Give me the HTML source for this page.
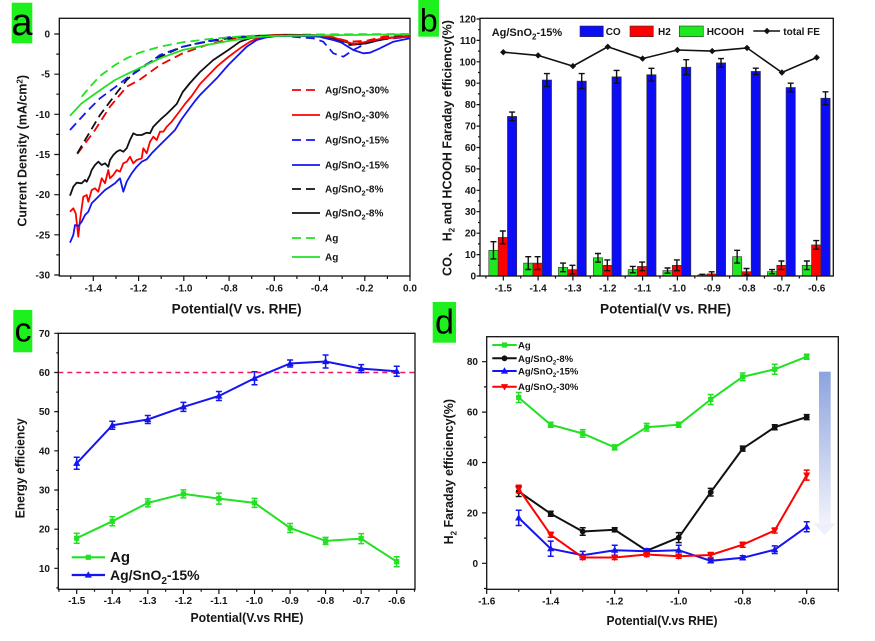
<!DOCTYPE html>
<html><head><meta charset="utf-8"><style>
html,body{margin:0;padding:0;background:#fff;}
svg{display:block;}
text{font-family:"Liberation Sans","Noto Sans CJK SC",Arial,sans-serif;font-weight:bold;fill:#161616;}
</style></head><body>
<svg width="875" height="641" viewBox="0 0 875 641" xmlns="http://www.w3.org/2000/svg">
<defs>
<rect id="sq" x="-2.6" y="-2.6" width="5.2" height="5.2"/>
<circle id="ci" r="2.9"/>
<polygon id="tu" points="0,-3.8 -3.6,2.6 3.6,2.6"/>
<polygon id="td" points="0,3.8 -3.6,-2.6 3.6,-2.6"/>
<polygon id="dm" points="0,-3.2 3.2,0 0,3.2 -3.2,0"/>
<linearGradient id="ag" x1="0" y1="0" x2="0" y2="1">
<stop offset="0" stop-color="#8ca3de"/><stop offset="1" stop-color="#f1f3fb"/>
</linearGradient>
</defs>
<rect width="875" height="641" fill="#fff"/>

<!-- ================= PANEL A ================= -->
<rect x="11.7" y="2.7" width="20.6" height="40.6" fill="#1ef01e"/>
<text x="22" y="35" font-size="38" font-weight="normal" text-anchor="middle" style="font-weight:normal;fill:#000">a</text>
<rect x="59.3" y="18.3" width="350.7" height="257.7" fill="none" stroke="#111" stroke-width="1.3"/>
<path d="M54.3 34H59.3M54.3 74.2H59.3M54.3 114.3H59.3M54.3 154.5H59.3M54.3 194.7H59.3M54.3 234.8H59.3M54.3 275H59.3M56.3 54.1H59.3M56.3 94.2H59.3M56.3 134.4H59.3M56.3 174.6H59.3M56.3 214.7H59.3M56.3 254.9H59.3M93.3 276V281M138.6 276V281M183.8 276V281M229.1 276V281M274.3 276V281M319.5 276V281M364.8 276V281M410 276V281M70.7 276V279M116 276V279M161.2 276V279M206.5 276V279M251.7 276V279M296.9 276V279M342.2 276V279M387.4 276V279" stroke="#111" stroke-width="1.2" fill="none"/>
<g font-size="10" text-anchor="end">
<text x="50" y="37.5">0</text><text x="50" y="77.7">-5</text><text x="50" y="117.8">-10</text><text x="50" y="158">-15</text><text x="50" y="198.2">-20</text><text x="50" y="238.3">-25</text><text x="50" y="278.5">-30</text>
</g>
<g font-size="10" text-anchor="middle">
<text x="93.3" y="291.5">-1.4</text><text x="138.6" y="291.5">-1.2</text><text x="183.8" y="291.5">-1.0</text><text x="229.1" y="291.5">-0.8</text><text x="274.3" y="291.5">-0.6</text><text x="319.5" y="291.5">-0.4</text><text x="364.8" y="291.5">-0.2</text><text x="410" y="291.5">0.0</text>
</g>
<text x="236.7" y="313.5" font-size="13.5" text-anchor="middle" textLength="130" lengthAdjust="spacingAndGlyphs">Potential(V vs. RHE)</text>
<text transform="translate(26.5,150.8) rotate(-90)" font-size="12.5" text-anchor="middle">Current Density (mA/cm<tspan dy="-4" font-size="8">2</tspan><tspan dy="4">)</tspan></text>

<g fill="none" stroke-width="1.8" stroke-linejoin="round" stroke-linecap="butt">
<polyline stroke="#e00" stroke-dasharray="9 5" points="77.3,154 95,130 110,106.7 126.7,86.7 139.3,80 160,65 182.7,53.3 206.7,45 228.3,39.3 253.3,36 283.3,34.7 316.7,35.3 333.3,37.3 350,41.7 366.7,40.7 383.3,36.7 410,35.3"/>
<polyline stroke="#111" stroke-dasharray="9 5" points="77.3,153.3 90,131.7 100,115 115,95 126.7,80 139.3,68.3 160,56.7 182.7,46.7 206.7,41.7 228.3,38.3 253.3,36 283.3,35 316.7,36 333.3,40 350,45 366.7,43.3 383.3,38.3 410,36"/>
<polyline stroke="#1515f0" stroke-dasharray="9 5" points="70,130 86.7,111.7 100,98.3 115,87.3 126.7,78.3 139.3,70 160,55 182.7,46.7 200,42.7 228.3,37.3 253.3,36 283.3,36 300,37.3 313.3,38.3 323.3,41.7 333.3,53.3 343.3,56.7 353.3,50 366.7,43.3 383.3,39.3 410,36.7"/>
<polyline stroke="#22e022" stroke-dasharray="9 5" points="81.7,96.7 90,86.7 100,76 115,65 126.7,58.3 139.3,52.7 160,46.7 182.7,42.3 206.7,39.3 228.3,37.3 253.3,35.7 283.3,34.7 333.3,34.3 410,34"/>
<polyline stroke="#111" points="70,195.7 73.3,186.7 76.7,182.7 81.7,183.3 85,180 86.7,181.7 90,175 91.7,170 95,165 98.3,161.7 101.7,165 105,163.3 108.3,166.7 110,160 113.3,155 116.7,151.7 120,150 123.3,151.7 126.7,148.3 130,140 133.3,133.3 136.7,135 141.7,135 146.7,132.7 150,133.3 153.3,126.7 156.7,123.3 161.7,118.3 166.7,114 171.7,109 176.7,104 182.7,92 190,83 200,72 213.3,60 228.3,50 240,41.7 250,38.3 263.3,36 276.7,35 316.7,35.3 333.3,38.3 350,43.3 360,44.3 376.7,40.7 393.3,37.3 410,36.7"/>
<polyline stroke="#f00" points="70,211.7 73.3,208.3 75.7,213.3 78.3,236.7 80,220 83.3,196.7 86.7,195 88.3,201.7 91.7,190 95,188.3 98.3,191.7 101.7,178.3 105,183.3 108.3,170 110,178.3 113.3,175 116.7,170 120,171.7 123.3,163.3 126.7,161.7 130,156.7 133.3,163.3 136.7,160 141.7,158.3 143.3,148.3 146.7,153.3 150,141.7 153.3,136.7 156.7,140 160,131.7 163.3,131.7 166.7,126.7 171.7,121.7 178.3,113 185,104 191.7,96 200,84 216.7,66.7 228.3,57 240,48.3 250,41.7 260,37.3 273.3,35.3 320,36 333.3,37.3 346.7,41.7 353.3,44 366.7,41.7 383.3,38.3 410,36.7"/>
<polyline stroke="#1515f0" points="70,242.7 73.3,235 75,225 78.3,226 81.7,221.7 85,215 88.3,211.7 91.7,203.3 95,200 100,195 105,190 110,186.7 115,183.3 120,178.3 123.3,191.7 126.7,181.7 131.7,173.3 136.7,166.7 141.7,161.7 146.7,159.3 151.7,153.3 156.7,148.3 161.7,143.3 168.3,136.7 175,130 181.7,119 188.3,110 195,101 200,95 216.7,78.3 228.3,65 233.3,60 246.7,46.7 256.7,40 266.7,37.3 276.7,36 300,36 320,36.7 340,41.7 353.3,50 363.3,53.3 370,52.7 380,48.3 393.3,41.7 410,38.3"/>
<polyline stroke="#22e022" points="70,115.7 81.7,103.3 93.3,95 104,87.5 115,80 127,74 139.3,68.3 160,58.3 182.7,50 206.7,45 228.3,41 253.3,37.3 274.3,36 300,35.7 350,35 410,34.3"/>
</g>
<!-- legend a -->
<g stroke-width="1.8" fill="none">
<path d="M292 90H320" stroke="#e00" stroke-dasharray="9 5"/>
<path d="M292 115H320" stroke="#f00"/>
<path d="M292 140H320" stroke="#1515f0" stroke-dasharray="9 5"/>
<path d="M292 165H320" stroke="#1515f0"/>
<path d="M292 189H320" stroke="#111" stroke-dasharray="9 5"/>
<path d="M292 213H320" stroke="#111"/>
<path d="M292 238H320" stroke="#22e022" stroke-dasharray="9 5"/>
<path d="M292 257H320" stroke="#22e022"/>
</g>
<g font-size="10">
<text x="325" y="93.5">Ag/SnO<tspan dy="3" font-size="7">2</tspan><tspan dy="-3">-30%</tspan></text>
<text x="325" y="118.5">Ag/SnO<tspan dy="3" font-size="7">2</tspan><tspan dy="-3">-30%</tspan></text>
<text x="325" y="143.5">Ag/SnO<tspan dy="3" font-size="7">2</tspan><tspan dy="-3">-15%</tspan></text>
<text x="325" y="168.5">Ag/SnO<tspan dy="3" font-size="7">2</tspan><tspan dy="-3">-15%</tspan></text>
<text x="325" y="192.5">Ag/SnO<tspan dy="3" font-size="7">2</tspan><tspan dy="-3">-8%</tspan></text>
<text x="325" y="216.5">Ag/SnO<tspan dy="3" font-size="7">2</tspan><tspan dy="-3">-8%</tspan></text>
<text x="325" y="241.5">Ag</text>
<text x="325" y="260.5">Ag</text>
</g>

<!-- ================= PANEL B ================= -->
<rect x="418.3" y="0" width="20.7" height="36.7" fill="#1ef01e"/>
<text x="428.8" y="31.7" font-size="32" text-anchor="middle" style="font-weight:normal;fill:#000">b</text>
<text transform="translate(451.5,148) rotate(-90)" font-size="12.5" text-anchor="middle">CO、 H<tspan dy="3" font-size="8">2</tspan><tspan dy="-3"> and HCOOH Faraday efficiency(%)</tspan></text>
<g stroke="#333" stroke-width="0.6">
<g fill="#0c0cf5">
<rect x="507.45" y="116.4" width="9.3" height="159.6"/><rect x="542.25" y="80" width="9.3" height="196"/><rect x="577.05" y="81.1" width="9.3" height="194.9"/><rect x="611.95" y="76.8" width="9.3" height="199.2"/><rect x="646.75" y="74.7" width="9.3" height="201.3"/><rect x="681.55" y="67.2" width="9.3" height="208.8"/><rect x="716.35" y="62.9" width="9.3" height="213.1"/><rect x="751.15" y="71.4" width="9.3" height="204.6"/><rect x="786.05" y="87.5" width="9.3" height="188.5"/><rect x="820.85" y="98.2" width="9.3" height="177.8"/>
</g>
<g fill="#f00">
<rect x="498.15" y="237.4" width="9.3" height="38.6"/><rect x="532.95" y="263.1" width="9.3" height="12.9"/><rect x="567.75" y="269.6" width="9.3" height="6.4"/><rect x="602.65" y="265.3" width="9.3" height="10.7"/><rect x="637.45" y="266.4" width="9.3" height="9.6"/><rect x="672.25" y="265.3" width="9.3" height="10.7"/><rect x="707.05" y="273.9" width="9.3" height="2.1"/><rect x="741.85" y="271.7" width="9.3" height="4.3"/><rect x="776.75" y="265.3" width="9.3" height="10.7"/><rect x="811.55" y="244.9" width="9.3" height="31.1"/>
</g>
<g fill="#1ee81e">
<rect x="488.8" y="250.3" width="9.3" height="25.7"/><rect x="523.6" y="263.1" width="9.3" height="12.9"/><rect x="558.4" y="267.4" width="9.3" height="8.6"/><rect x="593.3" y="257.8" width="9.3" height="18.2"/><rect x="628.1" y="269.6" width="9.3" height="6.4"/><rect x="662.9" y="270.6" width="9.3" height="5.4"/><rect x="697.7" y="274.9" width="9.3" height="1.1"/><rect x="732.5" y="256.7" width="9.3" height="19.3"/><rect x="767.4" y="271.7" width="9.3" height="4.3"/><rect x="802.2" y="265.3" width="9.3" height="10.7"/>
</g>
</g>
<path fill="none" stroke="#111" stroke-width="1.4" d="M493.45 241.7V258.9M490.45 241.7h6M490.45 258.9h6M528.25 256.7V269.5M525.25 256.7h6M525.25 269.5h6M563.05 263.1V271.7M560.05 263.1h6M560.05 271.7h6M597.95 253.5V262.1M594.95 253.5h6M594.95 262.1h6M632.75 266.4V272.8M629.75 266.4h6M629.75 272.8h6M667.55 268V273.2M664.55 268h6M664.55 273.2h6M702.35 274.3V275.5M699.35 274.3h6M737.15 250.3V263.1M734.15 250.3h6M734.15 263.1h6M772.05 269.6V273.8M769.05 269.6h6M769.05 273.8h6M806.85 261V269.6M803.85 261h6M803.85 269.6h6
M502.8 231V243.8M499.8 231h6M499.8 243.8h6M537.6 256.7V269.5M534.6 256.7h6M534.6 269.5h6M572.4 265.3V273.9M569.4 265.3h6M569.4 273.9h6M607.3 259.9V270.7M604.3 259.9h6M604.3 270.7h6M642.1 262.1V270.7M639.1 262.1h6M639.1 270.7h6M676.9 259.9V270.7M673.9 259.9h6M673.9 270.7h6M711.7 271.8V276M708.7 271.8h6M746.5 268.5V274.9M743.5 268.5h6M743.5 274.9h6M781.4 261V269.6M778.4 261h6M778.4 269.6h6M816.2 240.6V249.2M813.2 240.6h6M813.2 249.2h6
M512.1 112.1V120.7M509.1 112.1h6M509.1 120.7h6M546.9 73.6V86.4M543.9 73.6h6M543.9 86.4h6M581.7 73.6V88.6M578.7 73.6h6M578.7 88.6h6M616.6 70.4V83.2M613.6 70.4h6M613.6 83.2h6M651.4 68.3V81.1M648.4 68.3h6M648.4 81.1h6M686.2 59.7V74.7M683.2 59.7h6M683.2 74.7h6M721 58.6V67.2M718 58.6h6M718 67.2h6M755.8 68.2V74.6M752.8 68.2h6M752.8 74.6h6M790.7 83.2V91.8M787.7 83.2h6M787.7 91.8h6M825.5 91.8V104.6M822.5 91.8h6M822.5 104.6h6"/>
<polyline fill="none" stroke="#111" stroke-width="1.6" points="503.3,52.2 538.1,55.4 572.9,66.1 607.8,46.8 642.6,58.6 677.4,50 712.2,51.1 747,47.9 781.9,72.5 816.7,57.5"/>
<g fill="#111">
<use href="#dm" x="503.3" y="52.2"/><use href="#dm" x="538.1" y="55.4"/><use href="#dm" x="572.9" y="66.1"/><use href="#dm" x="607.8" y="46.8"/><use href="#dm" x="642.6" y="58.6"/><use href="#dm" x="677.4" y="50"/><use href="#dm" x="712.2" y="51.1"/><use href="#dm" x="747" y="47.9"/><use href="#dm" x="781.9" y="72.5"/><use href="#dm" x="816.7" y="57.5"/>
</g>
<rect x="480" y="18.3" width="353.3" height="257.7" fill="none" stroke="#111" stroke-width="1.3"/>
<path fill="none" stroke="#111" stroke-width="1.2" d="M476.5 276H480M476.5 254.6H480M476.5 233.2H480M476.5 211.7H480M476.5 190.3H480M476.5 168.9H480M476.5 147.5H480M476.5 126.1H480M476.5 104.6H480M476.5 83.2H480M476.5 61.8H480M476.5 40.4H480M476.5 19H480M478 265.3H480M478 243.9H480M478 222.5H480M478 201H480M478 179.6H480M478 158.2H480M478 136.8H480M478 115.4H480M478 93.9H480M478 72.5H480M478 51.1H480M478 29.7H480
M503.3 276V280.5M538.1 276V280.5M572.9 276V280.5M607.8 276V280.5M642.6 276V280.5M677.4 276V280.5M712.2 276V280.5M747 276V280.5M781.9 276V280.5M816.7 276V280.5M485.9 276V278.5M520.7 276V278.5M555.5 276V278.5M590.35 276V278.5M625.2 276V278.5M660 276V278.5M694.8 276V278.5M729.6 276V278.5M764.45 276V278.5M799.3 276V278.5"/>
<g font-size="10" text-anchor="end">
<text x="476" y="279.5">0</text><text x="476" y="258.1">10</text><text x="476" y="236.7">20</text><text x="476" y="215.2">30</text><text x="476" y="193.8">40</text><text x="476" y="172.4">50</text><text x="476" y="151">60</text><text x="476" y="129.6">70</text><text x="476" y="108.1">80</text><text x="476" y="86.7">90</text><text x="476" y="65.3">100</text><text x="476" y="43.9">110</text><text x="476" y="22.5">120</text>
</g>
<g font-size="10" text-anchor="middle">
<text x="503.3" y="291.5">-1.5</text><text x="538.1" y="291.5">-1.4</text><text x="572.9" y="291.5">-1.3</text><text x="607.8" y="291.5">-1.2</text><text x="642.6" y="291.5">-1.1</text><text x="677.4" y="291.5">-1.0</text><text x="712.2" y="291.5">-0.9</text><text x="747" y="291.5">-0.8</text><text x="781.9" y="291.5">-0.7</text><text x="816.7" y="291.5">-0.6</text>
</g>
<text x="665.5" y="313.5" font-size="13.5" text-anchor="middle" textLength="131" lengthAdjust="spacingAndGlyphs">Potential(V vs. RHE)</text>
<!-- legend b -->
<text x="491.7" y="36" font-size="11">Ag/SnO<tspan dy="3.5" font-size="8">2</tspan><tspan dy="-3.5">-15%</tspan></text>
<rect x="580" y="26" width="23.3" height="10.7" fill="#0c0cf5" stroke="#333" stroke-width="0.6"/>
<text x="605.7" y="35" font-size="10">CO</text>
<rect x="630" y="26" width="23.3" height="10.7" fill="#f00" stroke="#333" stroke-width="0.6"/>
<text x="658" y="35" font-size="10">H2</text>
<rect x="679.3" y="26" width="24" height="10.7" fill="#1ee81e" stroke="#333" stroke-width="0.6"/>
<text x="706.7" y="35" font-size="10">HCOOH</text>
<path d="M753.3 31H780" stroke="#111" stroke-width="1.6"/>
<use href="#dm" x="767" y="31" fill="#111"/>
<text x="783.3" y="35" font-size="10">total FE</text>

<!-- ================= PANEL C ================= -->
<rect x="13.3" y="310" width="19" height="42.3" fill="#1ef01e"/>
<text x="23" y="341.7" font-size="34" text-anchor="middle" style="font-weight:normal;fill:#000">c</text>
<path d="M58.3 372.5H415" stroke="#f0186a" stroke-width="1.5" stroke-dasharray="5 4"/>
<rect x="58.3" y="333.3" width="356.7" height="256" fill="none" stroke="#111" stroke-width="1.3"/>
<path fill="none" stroke="#111" stroke-width="1.2" d="M54.3 333.3H58.3M54.3 372.5H58.3M54.3 411.6H58.3M54.3 450.8H58.3M54.3 490H58.3M54.3 529.2H58.3M54.3 568.3H58.3M56.3 352.9H58.3M56.3 392.1H58.3M56.3 431.2H58.3M56.3 470.4H58.3M56.3 509.6H58.3M56.3 548.8H58.3M56.3 587.9H58.3
M76.7 589.3V594M112.3 589.3V594M147.8 589.3V594M183.4 589.3V594M218.9 589.3V594M254.5 589.3V594M290.1 589.3V594M325.6 589.3V594M361.2 589.3V594M396.7 589.3V594M94.5 589.3V591.8M130.1 589.3V591.8M165.6 589.3V591.8M201.2 589.3V591.8M236.7 589.3V591.8M272.3 589.3V591.8M307.9 589.3V591.8M343.4 589.3V591.8M379 589.3V591.8M414.5 589.3V591.8M58.9 589.3V591.8"/>
<g font-size="10" text-anchor="end">
<text x="50" y="336.8">70</text><text x="50" y="376">60</text><text x="50" y="415.1">50</text><text x="50" y="454.3">40</text><text x="50" y="493.5">30</text><text x="50" y="532.7">20</text><text x="50" y="571.8">10</text>
</g>
<g font-size="10" text-anchor="middle">
<text x="76.7" y="604">-1.5</text><text x="112.3" y="604">-1.4</text><text x="147.8" y="604">-1.3</text><text x="183.4" y="604">-1.2</text><text x="218.9" y="604">-1.1</text><text x="254.5" y="604">-1.0</text><text x="290.1" y="604">-0.9</text><text x="325.6" y="604">-0.8</text><text x="361.2" y="604">-0.7</text><text x="396.7" y="604">-0.6</text>
</g>
<text x="247" y="622" font-size="13" text-anchor="middle" textLength="113" lengthAdjust="spacingAndGlyphs">Potential(V.vs RHE)</text>
<text transform="translate(24.5,468.3) rotate(-90)" font-size="12.5" text-anchor="middle" textLength="100" lengthAdjust="spacingAndGlyphs">Energy efficiency</text>
<polyline fill="none" stroke="#22e022" stroke-width="2" points="76.7,538.2 112.3,521.3 147.8,502.9 183.4,493.9 218.9,498.6 254.5,502.9 290.1,528 325.6,540.9 361.2,538.6 396.7,561.7"/>
<path fill="none" stroke="#22e022" stroke-width="1.5" d="M76.7 533.2V543.2M73.7 533.2h6M73.7 543.2h6M112.3 516.8V525.8M109.3 516.8h6M109.3 525.8h6M147.8 498.9V506.9M144.8 498.9h6M144.8 506.9h6M183.4 489.9V497.9M180.4 489.9h6M180.4 497.9h6M218.9 493.1V504.1M215.9 493.1h6M215.9 504.1h6M254.5 498.4V507.4M251.5 498.4h6M251.5 507.4h6M290.1 523.5V532.5M287.1 523.5h6M287.1 532.5h6M325.6 537.4V544.4M322.6 537.4h6M322.6 544.4h6M361.2 533.6V543.6M358.2 533.6h6M358.2 543.6h6M396.7 556.7V566.7M393.7 556.7h6M393.7 566.7h6"/>
<g fill="#22e022">
<use href="#sq" x="76.7" y="538.2"/><use href="#sq" x="112.3" y="521.3"/><use href="#sq" x="147.8" y="502.9"/><use href="#sq" x="183.4" y="493.9"/><use href="#sq" x="218.9" y="498.6"/><use href="#sq" x="254.5" y="502.9"/><use href="#sq" x="290.1" y="528"/><use href="#sq" x="325.6" y="540.9"/><use href="#sq" x="361.2" y="538.6"/><use href="#sq" x="396.7" y="561.7"/>
</g>
<polyline fill="none" stroke="#1515f0" stroke-width="2" points="76.7,463.3 112.3,425.3 147.8,419.5 183.4,406.9 218.9,396 254.5,378.3 290.1,363.5 325.6,361.5 361.2,368.6 396.7,371.3"/>
<path fill="none" stroke="#1515f0" stroke-width="1.5" d="M76.7 457.3V469.3M73.7 457.3h6M73.7 469.3h6M112.3 421.3V429.3M109.3 421.3h6M109.3 429.3h6M147.8 415.5V423.5M144.8 415.5h6M144.8 423.5h6M183.4 402.4V411.4M180.4 402.4h6M180.4 411.4h6M218.9 391.5V400.5M215.9 391.5h6M215.9 400.5h6M254.5 371.8V384.8M251.5 371.8h6M251.5 384.8h6M290.1 360V367M287.1 360h6M287.1 367h6M325.6 355V368M322.6 355h6M322.6 368h6M361.2 364.6V372.6M358.2 364.6h6M358.2 372.6h6M396.7 366.3V376.3M393.7 366.3h6M393.7 376.3h6"/>
<g fill="#1515f0">
<use href="#tu" x="76.7" y="463.3"/><use href="#tu" x="112.3" y="425.3"/><use href="#tu" x="147.8" y="419.5"/><use href="#tu" x="183.4" y="406.9"/><use href="#tu" x="218.9" y="396"/><use href="#tu" x="254.5" y="378.3"/><use href="#tu" x="290.1" y="363.5"/><use href="#tu" x="325.6" y="361.5"/><use href="#tu" x="361.2" y="368.6"/><use href="#tu" x="396.7" y="371.3"/>
</g>
<!-- legend c -->
<path d="M71.7 557.3H105" stroke="#22e022" stroke-width="2.2"/>
<use href="#sq" x="88.3" y="557.3" fill="#22e022"/>
<text x="110" y="562" font-size="15">Ag</text>
<path d="M71.7 575H105" stroke="#1515f0" stroke-width="2.2"/>
<use href="#tu" x="88.3" y="575" fill="#1515f0"/>
<text x="110" y="580" font-size="14">Ag/SnO<tspan dy="4" font-size="10">2</tspan><tspan dy="-4">-15%</tspan></text>

<!-- ================= PANEL D ================= -->
<rect x="432.7" y="302" width="23.3" height="40.7" fill="#1ef01e"/>
<text x="444.5" y="333.3" font-size="34" text-anchor="middle" style="font-weight:normal;fill:#000">d</text>
<rect x="819" y="371.7" width="11.7" height="152" fill="url(#ag)"/>
<polygon points="813.3,523.3 835.7,523.3 824.5,535" fill="#eef1fb"/>
<rect x="486.7" y="336.7" width="351.6" height="252.6" fill="none" stroke="#111" stroke-width="1.3"/>
<path fill="none" stroke="#111" stroke-width="1.2" d="M482 563.3H486.7M482 512.9H486.7M482 462.5H486.7M482 412.1H486.7M482 361.7H486.7M484 588.5H486.7M484 538.1H486.7M484 487.7H486.7M484 437.3H486.7M484 386.9H486.7
M486.7 589.3V594M550.7 589.3V594M614.7 589.3V594M678.7 589.3V594M742.7 589.3V594M806.7 589.3V594M518.7 589.3V591.8M582.7 589.3V591.8M646.7 589.3V591.8M710.7 589.3V591.8M774.7 589.3V591.8M838.3 589.3V591.8"/>
<g font-size="10" text-anchor="end">
<text x="478" y="566.8">0</text><text x="478" y="516.4">20</text><text x="478" y="466">40</text><text x="478" y="415.6">60</text><text x="478" y="365.2">80</text>
</g>
<g font-size="10" text-anchor="middle">
<text x="486.7" y="604.5">-1.6</text><text x="550.7" y="604.5">-1.4</text><text x="614.7" y="604.5">-1.2</text><text x="678.7" y="604.5">-1.0</text><text x="742.7" y="604.5">-0.8</text><text x="806.7" y="604.5">-0.6</text>
</g>
<text x="662" y="625" font-size="13" text-anchor="middle" textLength="111" lengthAdjust="spacingAndGlyphs">Potential(V.vs RHE)</text>
<text transform="translate(453,471.7) rotate(-90)" font-size="12.5" text-anchor="middle">H<tspan dy="3.5" font-size="8">2</tspan><tspan dy="-3.5"> Faraday efficiency(%)</tspan></text>

<!-- Ag -->
<polyline fill="none" stroke="#22e022" stroke-width="2" points="518.7,397.5 550.7,424.7 582.7,433.5 614.7,447.4 646.7,427.2 678.7,424.7 710.7,399.5 742.7,376.8 774.7,369.3 806.7,356.7"/>
<path fill="none" stroke="#22e022" stroke-width="1.5" d="M518.7 392.5V402.5M515.7 392.5h6M515.7 402.5h6M550.7 422.2V427.2M547.7 422.2h6M547.7 427.2h6M582.7 429.7V437.3M579.7 429.7h6M579.7 437.3h6M614.7 444.9V449.9M611.7 444.9h6M611.7 449.9h6M646.7 423.4V431M643.7 423.4h6M643.7 431h6M678.7 422.2V427.2M675.7 422.2h6M675.7 427.2h6M710.7 394.5V404.5M707.7 394.5h6M707.7 404.5h6M742.7 373V380.6M739.7 373h6M739.7 380.6h6M774.7 364.3V374.3M771.7 364.3h6M771.7 374.3h6M806.7 354.2V359.2M803.7 354.2h6M803.7 359.2h6"/>
<g fill="#22e022">
<use href="#sq" x="518.7" y="397.5"/><use href="#sq" x="550.7" y="424.7"/><use href="#sq" x="582.7" y="433.5"/><use href="#sq" x="614.7" y="447.4"/><use href="#sq" x="646.7" y="427.2"/><use href="#sq" x="678.7" y="424.7"/><use href="#sq" x="710.7" y="399.5"/><use href="#sq" x="742.7" y="376.8"/><use href="#sq" x="774.7" y="369.3"/><use href="#sq" x="806.7" y="356.7"/>
</g>
<!-- 8% -->
<polyline fill="none" stroke="#111" stroke-width="2" points="518.7,491.5 550.7,513.7 582.7,531.5 614.7,529.8 646.7,550.7 678.7,537.6 710.7,492.2 742.7,448.6 774.7,427.2 806.7,417.1"/>
<path fill="none" stroke="#111" stroke-width="1.5" d="M518.7 486.5V496.5M515.7 486.5h6M515.7 496.5h6M550.7 511.2V516.2M547.7 511.2h6M547.7 516.2h6M582.7 527.7V535.3M579.7 527.7h6M579.7 535.3h6M614.7 527.8V531.8M611.7 527.8h6M611.7 531.8h6M646.7 549.4V552M643.7 549.4h6M643.7 552h6M678.7 532.6V542.6M675.7 532.6h6M675.7 542.6h6M710.7 488.4V496M707.7 488.4h6M707.7 496h6M742.7 446.1V451.1M739.7 446.1h6M739.7 451.1h6M774.7 424.7V429.7M771.7 424.7h6M771.7 429.7h6M806.7 414.6V419.6M803.7 414.6h6M803.7 419.6h6"/>
<g fill="#111">
<use href="#ci" x="518.7" y="491.5"/><use href="#ci" x="550.7" y="513.7"/><use href="#ci" x="582.7" y="531.5"/><use href="#ci" x="614.7" y="529.8"/><use href="#ci" x="646.7" y="550.7"/><use href="#ci" x="678.7" y="537.6"/><use href="#ci" x="710.7" y="492.2"/><use href="#ci" x="742.7" y="448.6"/><use href="#ci" x="774.7" y="427.2"/><use href="#ci" x="806.7" y="417.1"/>
</g>
<!-- 15% -->
<polyline fill="none" stroke="#1515f0" stroke-width="2" points="518.7,517.9 550.7,548.7 582.7,555.2 614.7,550.2 646.7,551.2 678.7,550.2 710.7,560.8 742.7,557.8 774.7,549.7 806.7,526.8"/>
<path fill="none" stroke="#1515f0" stroke-width="1.5" d="M518.7 510.3V525.5M515.7 510.3h6M515.7 525.5h6M550.7 541.1V556.3M547.7 541.1h6M547.7 556.3h6M582.7 551.4V559M579.7 551.4h6M579.7 559h6M614.7 545.2V555.2M611.7 545.2h6M611.7 555.2h6M646.7 548.7V553.7M643.7 548.7h6M643.7 553.7h6M678.7 545.2V555.2M675.7 545.2h6M675.7 555.2h6M710.7 558.8V562.8M707.7 558.8h6M707.7 562.8h6M742.7 555.8V559.8M739.7 555.8h6M739.7 559.8h6M774.7 545.9V553.5M771.7 545.9h6M771.7 553.5h6M806.7 521.8V531.8M803.7 521.8h6M803.7 531.8h6"/>
<g fill="#1515f0">
<use href="#tu" x="518.7" y="517.9"/><use href="#tu" x="550.7" y="548.7"/><use href="#tu" x="582.7" y="555.2"/><use href="#tu" x="614.7" y="550.2"/><use href="#tu" x="646.7" y="551.2"/><use href="#tu" x="678.7" y="550.2"/><use href="#tu" x="710.7" y="560.8"/><use href="#tu" x="742.7" y="557.8"/><use href="#tu" x="774.7" y="549.7"/><use href="#tu" x="806.7" y="526.8"/>
</g>
<!-- 30% -->
<polyline fill="none" stroke="#f00" stroke-width="2" points="518.7,489 550.7,534.8 582.7,557.5 614.7,557.5 646.7,554.5 678.7,556.2 710.7,555 742.7,544.7 774.7,530.5 806.7,475.1"/>
<path fill="none" stroke="#f00" stroke-width="1.5" d="M518.7 485.2V492.8M515.7 485.2h6M515.7 492.8h6M550.7 532.3V537.3M547.7 532.3h6M547.7 537.3h6M582.7 555.5V559.5M579.7 555.5h6M579.7 559.5h6M614.7 555.5V559.5M611.7 555.5h6M611.7 559.5h6M646.7 552.5V556.5M643.7 552.5h6M643.7 556.5h6M678.7 554.2V558.2M675.7 554.2h6M675.7 558.2h6M710.7 552.5V557.5M707.7 552.5h6M707.7 557.5h6M742.7 542.2V547.2M739.7 542.2h6M739.7 547.2h6M774.7 528V533M771.7 528h6M771.7 533h6M806.7 470.1V480.1M803.7 470.1h6M803.7 480.1h6"/>
<g fill="#f00">
<use href="#td" x="518.7" y="489"/><use href="#td" x="550.7" y="534.8"/><use href="#td" x="582.7" y="557.5"/><use href="#td" x="614.7" y="557.5"/><use href="#td" x="646.7" y="554.5"/><use href="#td" x="678.7" y="556.2"/><use href="#td" x="710.7" y="555"/><use href="#td" x="742.7" y="544.7"/><use href="#td" x="774.7" y="530.5"/><use href="#td" x="806.7" y="475.1"/>
</g>
<!-- legend d -->
<path d="M492.3 345H516.7" stroke="#22e022" stroke-width="2"/><use href="#sq" x="504.5" y="345" fill="#22e022"/>
<path d="M492.3 358.3H516.7" stroke="#111" stroke-width="2"/><use href="#ci" x="504.5" y="358.3" fill="#111"/>
<path d="M492.3 371H516.7" stroke="#1515f0" stroke-width="2"/><use href="#tu" x="504.5" y="371" fill="#1515f0"/>
<path d="M492.3 386.7H516.7" stroke="#f00" stroke-width="2"/><use href="#td" x="504.5" y="386.7" fill="#f00"/>
<g font-size="9.5">
<text x="518" y="348.5">Ag</text>
<text x="518" y="361.8">Ag/SnO<tspan dy="2.5" font-size="6">2</tspan><tspan dy="-2.5">-8%</tspan></text>
<text x="518" y="374.5">Ag/SnO<tspan dy="2.5" font-size="6">2</tspan><tspan dy="-2.5">-15%</tspan></text>
<text x="518" y="390.2">Ag/SnO<tspan dy="2.5" font-size="6">2</tspan><tspan dy="-2.5">-30%</tspan></text>
</g>
</svg>
</body></html>
